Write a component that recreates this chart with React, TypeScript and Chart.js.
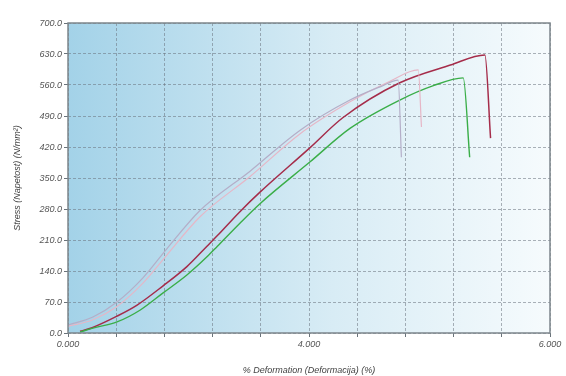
import React, { useEffect, useRef } from 'react';
import { Chart, registerables } from 'chart.js';
Chart.register(...registerables);

// Axis ticks
const yTickValues = [0, 70, 140, 210, 280, 350, 420, 490, 560, 630, 700];
const yTickLabels = ['0.0', '70.0', '140.0', '210.0', '280.0', '350.0', '420.0', '490.0', '560.0', '630.0', '700.0'];
const xTickValues = [0, 0.6, 1.2, 1.8, 2.4, 3.0, 3.6, 4.2, 4.8, 5.4, 6.0];
const xTickLabels = ['0.000', '', '', '', '', '4.000', '', '', '', '', '6.000'];

// Series: strain (%) and stress (N/mm²)
const lavenderStrain = [0, 0.31, 0.61, 0.93, 1.23, 1.64, 2.27, 2.89, 3.51, 3.9, 4.11, 4.15];
const lavenderStress = [18, 36, 70, 124, 190, 276, 366, 458, 526, 557, 571, 397];

const pinkStrain = [0, 0.31, 0.61, 0.93, 1.23, 1.64, 2.27, 2.89, 3.51, 4.0, 4.36, 4.4];
const pinkStress = [15, 30, 60, 112, 176, 262, 354, 450, 522, 568, 594, 465];

const redStrain = [0.15, 0.3, 0.61, 0.86, 1.18, 1.48, 1.73, 1.86, 2.14, 2.39, 3.01, 3.42, 4.13, 4.76, 5.19, 5.26];
const redStress = [4, 12, 38, 63, 106, 150, 196, 220, 274, 318, 418, 486, 565, 605, 628, 440];

const greenStrain = [0.15, 0.31, 0.61, 0.9, 1.18, 1.48, 1.73, 1.86, 2.14, 2.39, 3.01, 3.51, 4.13, 4.54, 4.92, 5.0];
const greenStress = [2, 11, 25, 52, 90, 131, 172, 196, 248, 292, 386, 462, 526, 558, 576, 397];

const toPoints = (xs: number[], ys: number[]) => xs.map((x, i) => ({ x, y: ys[i] }));

const bgPlugin = {
  id: 'bgGradient',
  beforeDatasetsDraw(chart: any) {
    const { ctx, chartArea } = chart;
    if (!chartArea) return;
    ctx.save();
    const g = ctx.createLinearGradient(chartArea.left, 0, chartArea.right, 0);
    g.addColorStop(0, '#a3d2e8');
    g.addColorStop(0.55, '#d8ecf5');
    g.addColorStop(1, '#f6fbfd');
    ctx.globalCompositeOperation = 'destination-over';
    ctx.fillStyle = g;
    ctx.fillRect(chartArea.left, chartArea.top, chartArea.right - chartArea.left, chartArea.bottom - chartArea.top);
    ctx.restore();
  },
  afterDraw(chart: any) {
    const { ctx, chartArea } = chart;
    ctx.save();
    ctx.strokeStyle = '#7d868c';
    ctx.lineWidth = 1.5;
    ctx.strokeRect(chartArea.left, chartArea.top, chartArea.right - chartArea.left, chartArea.bottom - chartArea.top);
    ctx.restore();
  },
};

export default function App() {
  const ref = useRef<HTMLCanvasElement>(null);
  useEffect(() => {
    if (!ref.current) return;
    const tickFont = { family: 'Liberation Sans', size: 9, style: 'italic' as const };
    const chart = new Chart(ref.current, {
      type: 'line',
      data: {
        datasets: [
          { data: toPoints(lavenderStrain, lavenderStress), borderColor: '#b4aec8', borderWidth: 1.2 },
          { data: toPoints(pinkStrain, pinkStress), borderColor: '#e6b6c6', borderWidth: 1.2 },
          { data: toPoints(greenStrain, greenStress), borderColor: '#3aae48', borderWidth: 1.4 },
          { data: toPoints(redStrain, redStress), borderColor: '#a52c4a', borderWidth: 1.5 },
        ],
      },
      options: {
        animation: false,
        responsive: false,
        maintainAspectRatio: false,
        parsing: false as any,
        elements: { point: { radius: 0 }, line: { cubicInterpolationMode: 'monotone' } },
        layout: { padding: { top: 23, right: 16, left: 0, bottom: 0 } },
        plugins: { legend: { display: false }, tooltip: { enabled: false } },
        scales: {
          x: {
            type: 'linear',
            min: 0,
            max: 6,
            afterBuildTicks: (s: any) => { s.ticks = xTickValues.map((v) => ({ value: v })); },
            afterFit: (s: any) => { s.height = 43; },
            ticks: {
              autoSkip: false,
              maxRotation: 0,
              padding: 2,
              color: '#555',
              font: tickFont,
              callback: (_v: any, i: number) => xTickLabels[i],
            },
            grid: { color: 'rgba(105,115,125,0.55)', tickLength: 4, tickColor: '#6a737a' },
            border: { display: false, dash: [3, 2] } as any,
            title: {
              display: true,
              text: '% Deformation (Deformacija) (%)',
              color: '#444',
              font: { family: 'Liberation Sans', size: 9, style: 'italic' },
              padding: { top: 14, bottom: 0 },
            },
          },
          y: {
            type: 'linear',
            min: 0,
            max: 700,
            afterBuildTicks: (s: any) => { s.ticks = yTickValues.map((v) => ({ value: v })); },
            afterFit: (s: any) => { s.width = 68; },
            ticks: {
              autoSkip: false,
              padding: 2,
              color: '#555',
              font: tickFont,
              callback: (_v: any, i: number) => yTickLabels[i],
            },
            grid: { color: 'rgba(105,115,125,0.55)', tickLength: 4, tickColor: '#6a737a' },
            border: { display: false, dash: [3, 2] } as any,
            title: {
              display: true,
              text: 'Stress (Napetost) (N/mm²)',
              color: '#444',
              font: { family: 'Liberation Sans', size: 9, style: 'italic' },
              padding: { top: 12, bottom: 0 },
            },
          },
        },
      },
      plugins: [bgPlugin],
    });
    return () => chart.destroy();
  }, []);
  return (
    <div style={{ position: 'fixed', left: 0, top: 0, width: 566, height: 376, background: '#fff' }}>
      <canvas ref={ref} width={566} height={376} style={{ width: 566, height: 376 }} />
    </div>
  );
}
